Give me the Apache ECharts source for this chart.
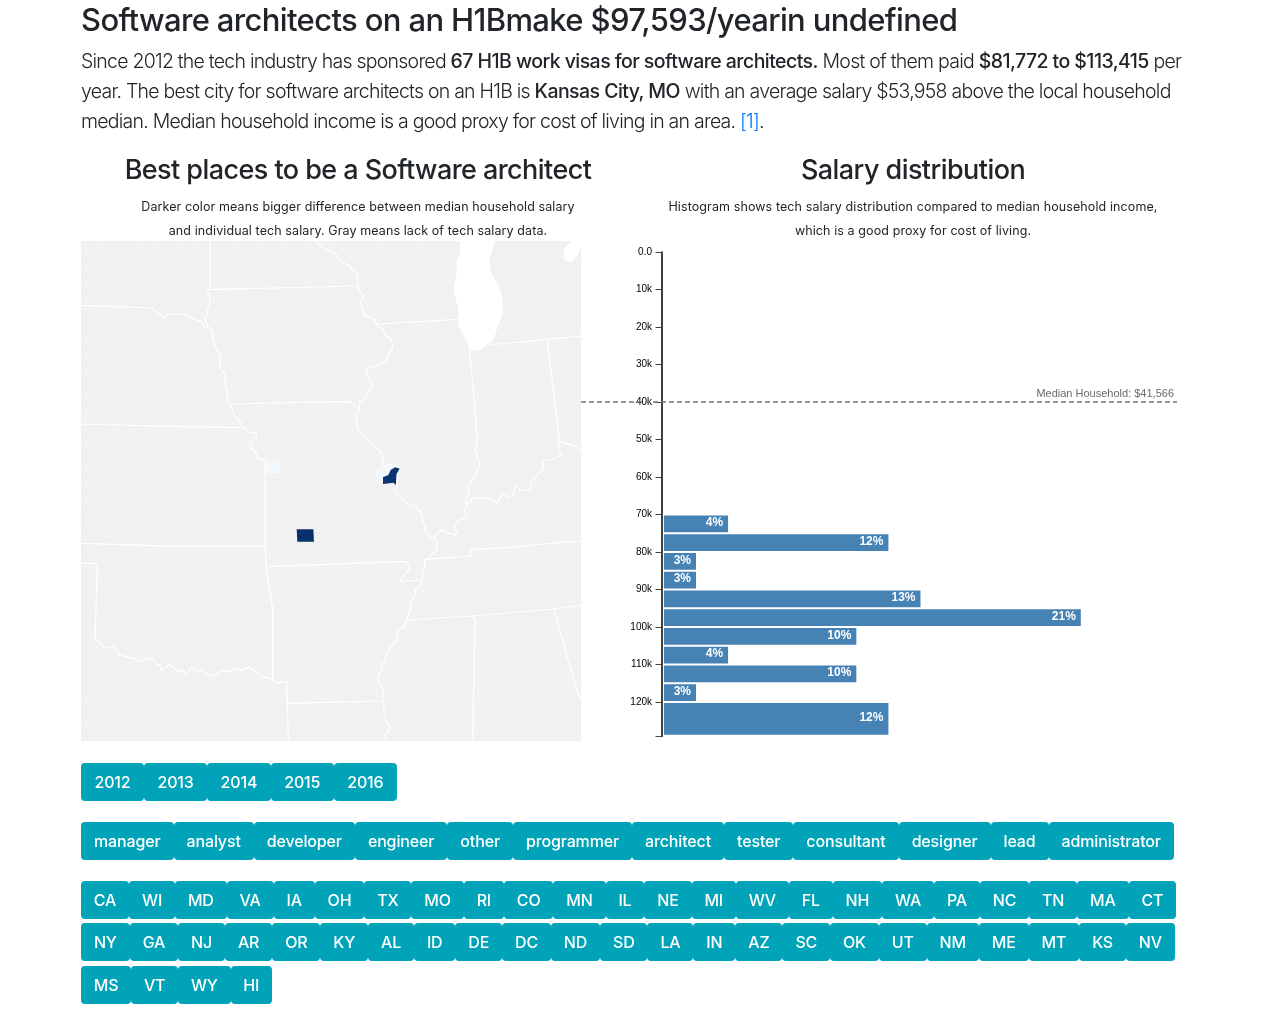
<!DOCTYPE html>
<html>
<head>
<meta charset="utf-8">
<title>Software architects on an H1B</title>
<script src="https://cdn.jsdelivr.net/npm/echarts@6/dist/echarts.min.js"></script>
<style>
    html, body { margin: 0; padding: 0; background: #fff; }
    body { position: relative; width: 1272px; height: 1009px; overflow: hidden; font-family: Inter, "Noto Sans", sans-serif; color: #212529; }
    #chart { position: absolute; left: 0; top: 0; width: 1272px; height: 1009px; }
    h1, h2, p { position: absolute; margin: 0; white-space: nowrap; }
    h1 { left: 81px; top: 0; font-size: 31px; line-height: 40px; font-weight: 500; letter-spacing: -0.64px; }
    .lead { left: 81px; top: 46px; font-size: 19.5px; line-height: 30px; font-weight: 300; letter-spacing: -0.76px; }
    .lead b { font-weight: 500; letter-spacing: -0.56px; }
    .lead a { color: #007bff; text-decoration: none; }
    h2 { top: 152px; width: 500px; text-align: center; font-size: 27px; line-height: 36px; font-weight: 500; letter-spacing: -0.56px; }
    .note { top: 195px; width: 560px; text-align: center; font-size: 12.5px; line-height: 24px; letter-spacing: 0.1px; }
    .row { position: absolute; left: 81px; display: flex; height: 38px; }
    .row span { flex: 1 1 auto; box-sizing: border-box; text-align: center; line-height: 38px; color: #fff; background: #00a3b8; border-radius: 4px; font-size: 16px; font-weight: 500; letter-spacing: -0.15px; }
</style>
</head>
<body>
<div id="chart"></div>
<h1>Software architects on an H1Bmake $97,593/yearin undefined</h1>
<p class="lead">Since 2012 the tech industry has sponsored <b>67 H1B work visas for software architects.</b> Most of them paid <b>$81,772 to $113,415</b> per<br>year. The best city for software architects on an H1B is <b>Kansas City, MO</b> with an average salary $53,958 above the local household<br>median. Median household income is a good proxy for cost of living in an area. <a href="#">[1]</a>.</p>
<h2 style="left:108px">Best places to be a Software architect</h2>
<h2 style="left:663px">Salary distribution</h2>
<p class="note" style="left:78px">Darker color means bigger difference between median household salary<br>and individual tech salary. Gray means lack of tech salary data.</p>
<p class="note" style="left:633px">Histogram shows tech salary distribution compared to median household income,<br>which is a good proxy for cost of living.</p>
<script>
;(function (echarts) {
    'use strict';

    // histogram
    var binStart  = [70000, 75000, 80000, 85000, 90000, 95000, 100000, 105000, 110000, 115000, 120000];
    var binEnd    = [75000, 80000, 85000, 90000, 95000, 100000, 105000, 110000, 115000, 120000, 129000];
    var binCounts = [3, 8, 2, 2, 9, 14, 7, 3, 7, 2, 8];
    var binLabels = ['4%', '12%', '3%', '3%', '13%', '21%', '10%', '4%', '10%', '3%', '12%'];
    var tickValues = [0, 10000, 20000, 30000, 40000, 50000, 60000, 70000, 80000, 90000, 100000, 110000, 120000];
    var axisEnd = 129200;
    var medianLineAt = 40000;
    var medianLabel  = 'Median Household: $41,566';

    // county values, salary difference
    var countyNames  = ['Jackson', 'St. Louis County', 'St. Louis', 'Kansas City'];
    var countyValues = [900, 1100, 53000, 53958];

    // buttons
    var years = ['2012', '2013', '2014', '2015', '2016'];
    var jobs  = ['manager', 'analyst', 'developer', 'engineer', 'other', 'programmer', 'architect', 'tester', 'consultant', 'designer', 'lead', 'administrator'];
    var statesA = ['CA', 'WI', 'MD', 'VA', 'IA', 'OH', 'TX', 'MO', 'RI', 'CO', 'MN', 'IL', 'NE', 'MI', 'WV', 'FL', 'NH', 'WA', 'PA', 'NC', 'TN', 'MA', 'CT'];
    var statesB = ['NY', 'GA', 'NJ', 'AR', 'OR', 'KY', 'AL', 'ID', 'DE', 'DC', 'ND', 'SD', 'LA', 'IN', 'AZ', 'SC', 'OK', 'UT', 'NM', 'ME', 'MT', 'KS', 'NV'];
    var statesC = ['MS', 'VT', 'WY', 'HI'];

    // base map outlines, traced
    var landShape = [[3, 3], [1503, 3], [1503, 1503], [3, 1503]];
    var lakeShapes = [
        [[1140, 3], [1245, 3], [1228, 60], [1232, 95], [1255, 135], [1268, 175], [1268, 220], [1250, 270], [1240, 300], [1200, 330], [1175, 332], [1162, 310], [1150, 285], [1135, 260], [1135, 205], [1120, 150], [1130, 100], [1130, 60], [1140, 40]],
        [[1450, 30], [1475, 3], [1503, 3], [1503, 20], [1490, 50], [1472, 68], [1452, 60]]
    ];
    var countyShapes = [
        [[555, 665], [575, 665], [590, 653], [600, 660], [600, 700], [555, 700]],
        [[885, 685], [912, 680], [930, 672], [950, 680], [960, 690], [955, 720], [945, 725], [910, 730], [888, 725]],
        [[909, 712], [925, 705], [932, 690], [945, 682], [960, 686], [950, 702], [948, 735], [940, 728], [909, 732]],
        [[650, 868], [700, 868], [702, 905], [652, 905]]
    ];
    var stateBorders = [
        [[391, 3], [391, 148]],
        [[380, 149], [832, 138]],
        [[380, 149], [388, 165], [390, 185], [385, 205], [375, 240], [385, 262], [397, 270], [398, 295], [408, 322], [420, 345], [420, 380], [435, 405], [438, 445], [445, 460], [440, 475], [455, 505], [465, 530], [482, 548], [485, 558], [510, 578], [528, 578], [530, 590], [515, 605], [512, 620], [528, 640], [535, 655], [556, 662], [556, 918], [558, 980]],
        [[3, 196], [215, 204], [235, 220], [255, 233], [265, 222], [318, 222], [335, 235], [365, 245], [375, 265], [385, 262]],
        [[3, 552], [300, 560], [485, 563]],
        [[3, 910], [300, 919], [556, 919]],
        [[558, 980], [980, 964], [988, 985], [960, 1025], [1025, 1020]],
        [[558, 980], [578, 1105], [578, 1318]],
        [[3, 970], [52, 970], [45, 1200], [55, 1202], [75, 1225], [100, 1218], [120, 1245], [160, 1255], [185, 1265], [200, 1255], [222, 1258], [228, 1272], [240, 1275], [245, 1290], [265, 1275], [285, 1285], [290, 1295], [310, 1290], [320, 1305], [335, 1282], [350, 1295], [365, 1290], [370, 1297], [392, 1307], [410, 1305], [425, 1292], [445, 1295], [465, 1285], [490, 1290], [505, 1280], [530, 1295], [545, 1310], [578, 1318], [590, 1328], [620, 1326], [622, 1390], [625, 1503]],
        [[622, 1390], [905, 1383]],
        [[705, 3], [720, 15], [740, 30], [765, 38], [780, 60], [810, 80], [830, 100], [835, 138], [840, 155], [850, 165], [842, 190], [852, 225], [885, 240], [890, 255], [908, 268], [915, 285], [935, 297], [938, 320], [925, 345], [920, 360], [898, 375], [862, 385], [858, 405], [875, 425], [875, 440], [860, 462], [858, 478], [840, 482], [838, 508], [828, 530], [835, 570], [855, 592], [880, 618], [902, 632], [908, 650], [912, 680], [930, 672], [962, 684], [952, 704], [950, 737], [945, 755], [960, 772], [985, 795], [1005, 798], [1025, 820], [1030, 850], [1037, 855], [1035, 870], [1050, 895], [1065, 895], [1072, 910], [1068, 935], [1050, 945], [1048, 955], [1035, 958], [1033, 985], [1025, 995], [1030, 1010], [1025, 1020], [1025, 1035], [1005, 1050], [1008, 1065], [995, 1080], [990, 1110], [980, 1140], [975, 1158], [955, 1170], [950, 1205], [932, 1220], [925, 1240], [915, 1250], [915, 1265], [905, 1272], [908, 1290], [895, 1305], [895, 1330], [908, 1345], [910, 1370], [905, 1383], [912, 1400], [912, 1425], [920, 1450], [932, 1462], [915, 1485], [920, 1503]],
        [[450, 492], [810, 484], [838, 508]],
        [[890, 252], [1135, 238]],
        [[1168, 320], [1185, 510], [1192, 605], [1185, 630], [1200, 675], [1182, 715], [1162, 742], [1168, 755], [1155, 790], [1162, 795], [1152, 810], [1162, 830], [1130, 845], [1122, 865], [1132, 880], [1120, 885], [1085, 870], [1065, 885], [1065, 895]],
        [[1155, 790], [1172, 785], [1178, 775], [1200, 772], [1225, 775], [1250, 788], [1270, 760], [1285, 775], [1300, 765], [1305, 735], [1320, 750], [1350, 750], [1355, 725], [1390, 685], [1388, 660], [1410, 660], [1445, 645], [1435, 620], [1440, 605], [1460, 610], [1490, 620], [1503, 638]],
        [[1225, 315], [1402, 298], [1503, 288]],
        [[1402, 298], [1438, 605]],
        [[1035, 958], [1172, 948], [1172, 928], [1300, 922], [1430, 908], [1503, 903]],
        [[980, 1140], [1175, 1128], [1420, 1107], [1503, 1096]],
        [[1175, 1128], [1185, 1135], [1178, 1503]],
        [[1422, 1107], [1490, 1350], [1503, 1380]]
    ];
    // rough county mesh per state: [x0, x1, y0, y1, verticals, horizontals]
    var countyMesh = [
        [3, 385, 3, 196, [60, 120, 175, 235, 290, 340], [45, 90, 140, 180]],
        [395, 830, 3, 140, [470, 540, 610, 680, 750], [40, 95]],
        [845, 1125, 3, 235, [900, 960, 1020, 1080], [60, 120, 175]],
        [3, 420, 235, 550, [65, 130, 190, 250, 310, 365], [300, 350, 405, 460, 510]],
        [430, 830, 150, 490, [480, 530, 580, 630, 680, 730, 780], [195, 240, 285, 330, 375, 420, 465]],
        [3, 550, 565, 905, [55, 105, 155, 205, 255, 305, 355, 405, 455, 505], [620, 675, 730, 785, 840, 890]],
        [60, 570, 925, 1190, [110, 170, 230, 290, 350, 410, 470, 530], [975, 1030, 1085, 1140]],
        [565, 950, 510, 955, [620, 680, 740, 800, 870], [545, 600, 655, 710, 765, 820, 875, 930]],
        [890, 1165, 260, 840, [950, 1010, 1070, 1125], [310, 365, 420, 475, 530, 585, 640, 695, 750, 805]],
        [1185, 1430, 340, 760, [1235, 1285, 1335, 1385], [380, 440, 500, 560, 620, 680]],
        [590, 960, 1030, 1375, [650, 710, 770, 830, 890], [1090, 1150, 1210, 1270, 1330]],
        [1000, 1500, 935, 1120, [1060, 1120, 1180, 1240, 1300, 1360, 1420, 1480], [990, 1050]],
        [1170, 1500, 790, 900, [1230, 1290, 1350, 1410, 1470], [840]],
        [935, 1170, 1145, 1500, [990, 1050, 1110], [1200, 1260, 1320, 1380, 1440]],
        [1190, 1470, 1125, 1500, [1250, 1310, 1370, 1430], [1190, 1250, 1310, 1370, 1430]],
        [3, 610, 1330, 1500, [70, 150, 230, 310, 390, 470, 550], [1385, 1445]],
        [630, 900, 1395, 1500, [700, 770, 840], [1450]]
    ];

    function flipY(points) {
        return points.map(function (p) { return [p[0], -p[1]]; });
    }

    function polygon(name, points) {
        var ring = flipY(points);
        ring.push(ring[0]);
        return { type: 'Feature', properties: { name: name }, geometry: { type: 'Polygon', coordinates: [ring] } };
    }

    function meshLines() {
        var lines = [];
        countyMesh.forEach(function (m) {
            m[4].forEach(function (x) {
                lines.push({ coords: flipY([[x, m[2]], [x, m[3]]]) });
            });
            m[5].forEach(function (y) {
                lines.push({ coords: flipY([[m[0], y], [m[1], y]]) });
            });
        });
        return lines;
    }

    function buildButtons(labels, top, width) {
        var row = document.createElement('div');
        row.className = 'row';
        row.style.top = top + 'px';
        row.style.width = width + 'px';
        labels.forEach(function (label) {
            var span = document.createElement('span');
            span.textContent = label;
            row.appendChild(span);
        });
        document.body.appendChild(row);
    }

    buildButtons(years, 763, 316);
    buildButtons(jobs, 822, 1093);
    buildButtons(statesA, 881, 1095);
    buildButtons(statesB, 923, 1094);
    buildButtons(statesC, 966, 191);

    var baseFeatures = [polygon('land', landShape)];
    lakeShapes.forEach(function (shape, i) {
        baseFeatures.push(polygon('lake' + i, shape));
    });
    echarts.registerMap('midwest', { type: 'FeatureCollection', features: baseFeatures });

    // same frame as the base map so both layers line up
    var countyFeatures = [polygon('frame', landShape)];
    countyShapes.forEach(function (shape, i) {
        countyFeatures.push(polygon(countyNames[i], shape));
    });
    echarts.registerMap('counties', { type: 'FeatureCollection', features: countyFeatures });

    var histogram = binCounts.map(function (n, i) {
        return [binStart[i], binEnd[i], n, binLabels[i]];
    });

    function renderBin(params, api) {
        var top = api.coord([1, api.value(0)]);
        var bottom = api.coord([api.value(2), api.value(1)]);
        var y = top[1] + 1;
        var h = bottom[1] - top[1] - 2;
        return {
            type: 'group',
            children: [{
                type: 'rect',
                shape: { x: top[0], y: y, width: bottom[0] - top[0], height: h },
                style: { fill: '#4682b4' }
            }, {
                type: 'text',
                style: {
                    x: bottom[0] - 5,
                    y: y + h / 2 - 1,
                    text: binLabels[params.dataIndex],
                    fill: '#fff',
                    font: 'bold 12px "Liberation Sans", Arial, sans-serif',
                    align: 'right',
                    verticalAlign: 'middle'
                }
            }]
        };
    }

    var chart = echarts.init(document.getElementById('chart'));
    chart.setOption({
        animation: false,
        geo: {
            map: 'midwest',
            silent: true,
            roam: false,
            aspectScale: 1,
            left: 81,
            top: 241,
            width: 500,
            height: 500,
            itemStyle: { areaColor: '#f1f1f1', borderWidth: 0 },
            regions: lakeShapes.map(function (shape, i) {
                return { name: 'lake' + i, itemStyle: { areaColor: '#fff' } };
            })
        },
        visualMap: {
            show: false,
            seriesIndex: 1,
            min: 0,
            max: 53958,
            inRange: { color: ['#f7fbff', '#08306b'] }
        },
        grid: { left: 581, top: 252, width: 596, height: 484.5 },
        xAxis: { type: 'value', min: -1.587, max: 17, show: false },
        yAxis: {
            type: 'value',
            inverse: true,
            min: 0,
            max: axisEnd,
            interval: 10000,
            offset: -80.5,
            splitLine: { show: false },
            axisLine: { show: true, lineStyle: { color: '#000', width: 1.5 } },
            axisTick: { show: true, length: 6, customValues: tickValues.concat([axisEnd]), lineStyle: { color: '#444', width: 1 } },
            axisLabel: {
                margin: 9.5,
                color: '#000',
                fontSize: 10,
                fontFamily: '"Liberation Sans", Arial, sans-serif',
                customValues: tickValues,
                formatter: function (v) {
                    return v === 0 ? '0.0' : v / 1000 + 'k';
                }
            }
        },
        series: [{
            type: 'lines',
            coordinateSystem: 'geo',
            geoIndex: 0,
            polyline: true,
            silent: true,
            lineStyle: { color: '#f3f3f3', width: 1, opacity: 1 },
            data: meshLines()
        }, {
            type: 'map',
            map: 'counties',
            silent: true,
            aspectScale: 1,
            left: 81,
            top: 241,
            width: 500,
            height: 500,
            label: { show: false },
            itemStyle: { areaColor: 'transparent', borderWidth: 0 },
            data: countyNames.map(function (name, i) {
                return { name: name, value: countyValues[i] };
            })
        }, {
            type: 'lines',
            coordinateSystem: 'geo',
            geoIndex: 0,
            polyline: true,
            silent: true,
            lineStyle: { color: '#fff', width: 1.2, opacity: 1 },
            data: stateBorders.map(function (line) {
                return { coords: flipY(line) };
            })
        }, {
            type: 'custom',
            silent: true,
            renderItem: renderBin,
            encode: { x: 2, y: [0, 1] },
            data: histogram,
            markLine: {
                silent: true,
                symbol: 'none',
                lineStyle: { color: '#777', type: [5, 3], width: 1.5 },
                label: {
                    position: 'insideEndTop',
                    formatter: medianLabel,
                    color: '#6a6a6a',
                    fontSize: 11,
                    distance: 3,
                    fontFamily: '"Liberation Sans", Arial, sans-serif'
                },
                data: [{ yAxis: medianLineAt }]
            }
        }]
    });
})(echarts);
</script>
</body>
</html>
